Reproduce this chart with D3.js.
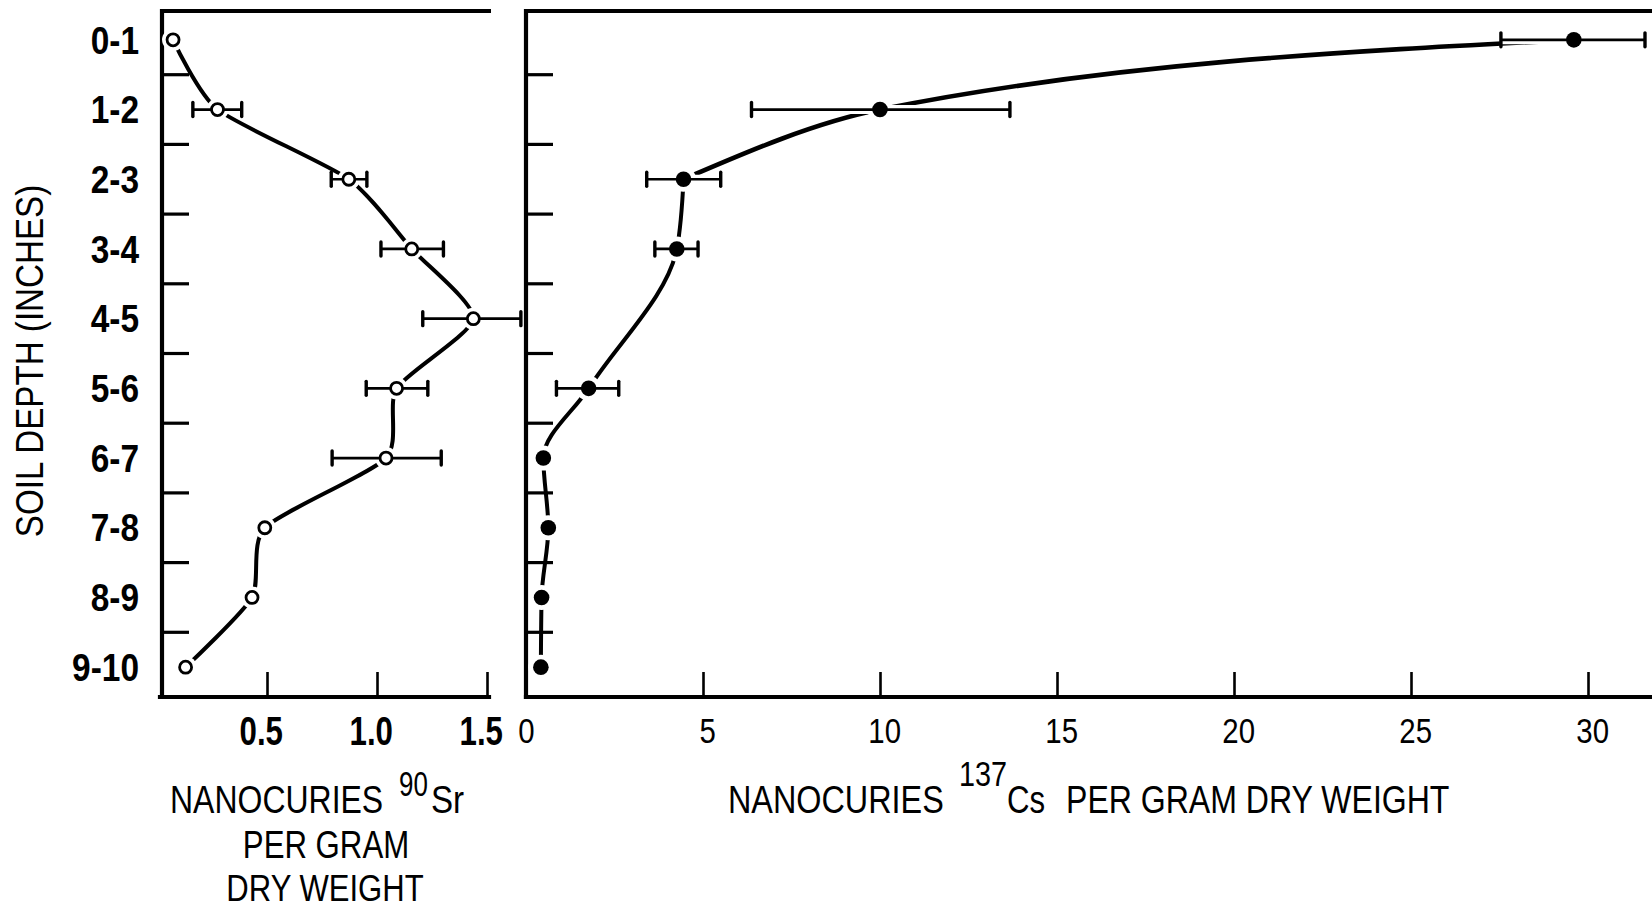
<!DOCTYPE html>
<html><head><meta charset="utf-8">
<script src="https://cdn.jsdelivr.net/npm/d3@7"></script>
<style>
html,body{margin:0;padding:0;background:#fff;}
svg{display:block;}
text{font-family:"Liberation Sans",Arial,sans-serif;fill:#000;}
</style></head><body>
<svg id="chart" width="1652" height="910"></svg>
<script>
// ---- data ----
const depths = ["0-1","1-2","2-3","3-4","4-5","5-6","6-7","7-8","8-9","9-10"];
const srValues  = [0.073,0.275,0.872,1.158,1.438,1.089,1.041,0.490,0.432,0.130];
const srErrLow  = [null,0.163,0.792,1.018,1.208,0.951,0.796,null,null,null];
const srErrHigh = [null,0.385,0.954,1.302,1.654,1.231,1.292,null,null,null];
const csValues  = [29.6,10.0,4.45,4.26,null,1.77,0.49,0.63,0.44,0.42];
const csErrLow  = [27.54,6.37,3.41,3.64,null,0.86,null,null,null,null];
const csErrHigh = [31.61,13.67,5.50,4.86,null,2.62,null,null,null,null];
const srTicks = [0.5,1.0,1.5];
const srTickLabels = ["0.5","1.0","1.5"];
const csTicks = [0,5,10,15,20,25,30];
const csTickLabels = ["0","5","10","15","20","25","30"];
const yTitle = "SOIL DEPTH (INCHES)";

(function () {
const svg = d3.select("#chart");

// ---- layout ----
const frameTop = 11, frameBottom = 697;
const srLeft = 162, srRight = 489;
const csLeft = 526, csRight = 1652;

const y = d3.scaleBand().domain(depths).range([5, 702]);
const yc = d => y(d) + y.bandwidth() / 2;
const xSr = d3.scaleLinear().domain([0, 1.5]).range([157, 487]);
const xCs = d3.scaleLinear().domain([0, 30]).range([526, 1588]);

const srData = depths.map((d, i) => ({d, v: srValues[i], lo: srErrLow[i], hi: srErrHigh[i]}));
const csData = depths.map((d, i) => ({d, v: csValues[i], lo: csErrLow[i], hi: csErrHigh[i]})).filter(p => p.v != null);

// ---- frames ----
function frame(l, r, bl) {
  const g = svg.append("g").attr("stroke", "#000").attr("stroke-linecap", "square");
  g.append("line").attr("x1", l).attr("x2", l).attr("y1", frameTop).attr("y2", frameBottom).attr("stroke-width", 4.2);
  g.append("line").attr("x1", l).attr("x2", r).attr("y1", frameTop).attr("y2", frameTop).attr("stroke-width", 4);
  g.append("line").attr("x1", bl).attr("x2", r).attr("y1", frameBottom).attr("y2", frameBottom).attr("stroke-width", 4.2);
  g.selectAll(null).data(depths.slice(1)).join("line")
    .attr("x1", l).attr("x2", l + 27).attr("y1", d => y(d)).attr("y2", d => y(d))
    .attr("stroke-width", 3.2).attr("stroke-linecap", "butt");
}
frame(srLeft, srRight, 160);
frame(csLeft, csRight, csLeft);

// ---- x axes ----
const axSr = svg.append("g").attr("transform", `translate(0,${frameBottom})`)
  .call(d3.axisBottom(xSr).tickValues(srTicks).tickFormat((d, i) => srTickLabels[i]).tickSize(-25));
axSr.select(".domain").remove();
axSr.selectAll(".tick line").attr("stroke", "#000").attr("stroke-width", 2.6);
axSr.selectAll(".tick text").attr("y", 48).attr("dy", null).attr("x", -8)
  .attr("transform", "scale(0.78,1)")
  .style("font-size", "40px").style("font-weight", "bold").attr("fill", "#000");

const axCs = svg.append("g").attr("transform", `translate(0,${frameBottom})`)
  .call(d3.axisBottom(xCs).tickValues(csTicks).tickFormat((d, i) => csTickLabels[i]).tickSize(-25));
axCs.select(".domain").remove();
axCs.selectAll(".tick line").attr("stroke", "#000").attr("stroke-width", 2.6)
  .style("display", d => d === 0 ? "none" : null);
axCs.selectAll(".tick text").attr("y", 46).attr("dy", null)
  .attr("x", d => d === 0 ? 0 : 5)
  .attr("transform", "scale(0.84,1)")
  .style("font-size", "35px").attr("fill", "#000");

// ---- y category labels ----
const catSx = 0.88;
const axY = svg.append("g").attr("transform", `translate(${srLeft},0)`)
  .call(d3.axisLeft(y).tickSize(0).tickPadding(23));
axY.select(".domain").remove();
axY.selectAll(".tick text").attr("x", -23 / catSx).attr("transform", `scale(${catSx},1)`)
  .style("font-size", "38px").style("font-weight", "bold")
  .attr("dy", "0.36em").attr("fill", "#000");

// ---- curves ----
const lineSr = d3.line().x(p => xSr(p.v)).y(p => yc(p.d)).curve(d3.curveCardinal.tension(0.35));
svg.append("path").attr("d", lineSr(srData)).attr("fill", "none").attr("stroke", "#000").attr("stroke-width", 4);

// Cs: upper branch drawn as x-monotone, lower branch as depth-monotone
const csUpper = csData.slice(0, 3).reverse();
const csLower = csData.slice(2);
const lineCsUp = d3.line().x(p => xCs(p.v)).y(p => yc(p.d)).curve(d3.curveMonotoneX);
const lineCsLo = d3.line().x(p => xCs(p.v)).y(p => yc(p.d)).curve(d3.curveMonotoneY);
svg.append("path").attr("d", lineCsUp(csUpper)).attr("fill", "none").attr("stroke", "#000").attr("stroke-width", 4.6);
svg.append("path").attr("d", lineCsLo(csLower)).attr("fill", "none").attr("stroke", "#000").attr("stroke-width", 4);

// halos around points
svg.selectAll(null).data(srData).join("circle")
  .attr("cx", p => xSr(p.v)).attr("cy", p => yc(p.d)).attr("r", 11).attr("fill", "#fff");
svg.selectAll(null).data(csData).join("circle")
  .attr("cx", p => xCs(p.v)).attr("cy", p => yc(p.d)).attr("r", 12.5).attr("fill", "#fff");

// ---- error bars ----
function errorBars(data, x) {
  const e = data.filter(p => p.lo != null);
  const g = svg.append("g");
  g.selectAll(null).data(e).join("line")
    .attr("x1", p => x(p.lo)).attr("x2", p => x(p.hi)).attr("y1", p => yc(p.d)).attr("y2", p => yc(p.d))
    .attr("stroke", "#fff").attr("stroke-width", 9);
  g.selectAll(null).data(e).join("line")
    .attr("x1", p => x(p.lo)).attr("x2", p => x(p.hi)).attr("y1", p => yc(p.d)).attr("y2", p => yc(p.d))
    .attr("stroke", "#000").attr("stroke-width", 2.7);
  ["lo", "hi"].forEach(k => {
    g.selectAll(null).data(e).join("line")
      .attr("x1", p => x(p[k])).attr("x2", p => x(p[k]))
      .attr("y1", p => yc(p.d) - 7).attr("y2", p => yc(p.d) + 7)
      .attr("stroke", "#000").attr("stroke-width", 3.4).attr("stroke-linecap", "round");
  });
}
errorBars(srData, xSr);
errorBars(csData, xCs);

// ---- points ----
svg.selectAll(null).data(srData).join("circle")
  .attr("cx", p => xSr(p.v)).attr("cy", p => yc(p.d)).attr("r", 6)
  .attr("fill", "#fff").attr("stroke", "#000").attr("stroke-width", 2.8);
svg.selectAll(null).data(csData).join("circle")
  .attr("cx", p => xCs(p.v)).attr("cy", p => yc(p.d)).attr("r", 7.8).attr("fill", "#000");

// ---- titles ----
function txt(s, x, yb, opts = {}) {
  const sx = opts.sx || 0.8;
  return svg.append("text")
    .attr("transform", `translate(${x},${yb})${opts.rot ? " rotate(" + opts.rot + ")" : ""} scale(${sx},1)`)
    .text(s)
    .style("font-size", (opts.size || 39) + "px")
    .attr("text-anchor", opts.anchor || "start");
}
txt(yTitle, 43, 361, {rot: -90, sx: 0.85, anchor: "middle"});

txt("NANOCURIES", 170, 813, {sx: 0.82});
txt("90", 399, 796, {size: 36, sx: 0.72});
txt("Sr", 431, 813, {sx: 0.85});
txt("PER GRAM", 326, 858, {anchor: "middle"});
txt("DRY WEIGHT", 325, 901, {anchor: "middle", size: 37, sx: 0.84});

txt("NANOCURIES", 728, 813, {sx: 0.83});
txt("137", 959, 786, {size: 36, sx: 0.8});
txt("Cs", 1007, 813);
txt("PER GRAM DRY WEIGHT", 1066, 813, {sx: 0.822});
})();
</script>
</body></html>
